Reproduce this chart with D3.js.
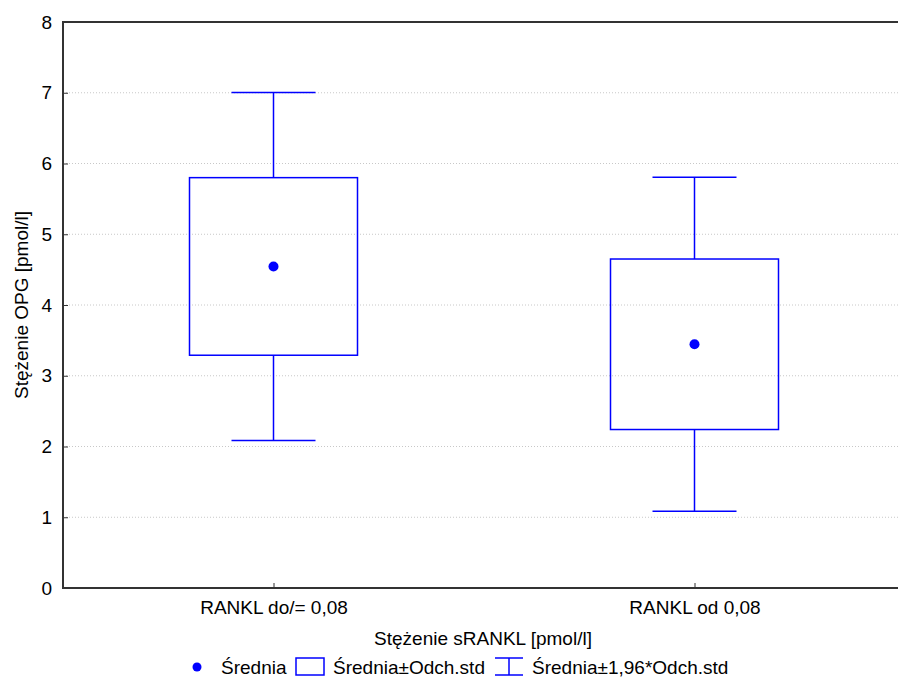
<!DOCTYPE html>
<html lang="pl">
<head>
<meta charset="utf-8">
<title>Stężenie OPG</title>
<script src="https://cdn.jsdelivr.net/npm/d3@7"></script>
<style>
  body { margin: 0; background: #fff; }
  svg text { font-family: "Liberation Sans", Arial, sans-serif; fill: #000; }
  .grid line { stroke: #c8c8c8; stroke-dasharray: 1,2; }
  .box { fill: none; stroke: #0000ff; stroke-width: 1.5; }
</style>
</head>
<body>
<svg width="898" height="677"></svg>
<script>
// values
var categories = ["RANKL do/= 0,08", "RANKL od 0,08"];
var means = [4.545, 3.445];
var stdDevs = [1.255, 1.205];
var yTicks = [0, 1, 2, 3, 4, 5, 6, 7, 8];
var legendItems = ["Średnia", "Średnia±Odch.std", "Średnia±1,96*Odch.std"];

var svg = d3.select("svg");
var plotL = 63, plotR = 905, plotT = 22, plotB = 588;
var fs = 19;

var x = d3.scalePoint().domain(categories).range([plotL, plotR]).padding(0.5);
var y = d3.scaleLinear().domain([0, 8]).range([plotB, plotT]);
var boxW = 168;

// grid
svg.append("g").attr("class", "grid")
  .selectAll("line").data(yTicks.filter(function(d){ return d > 0 && d < 8; }))
  .enter().append("line")
    .attr("x1", plotL).attr("x2", 898)
    .attr("y1", function(d){ return y(d); }).attr("y2", function(d){ return y(d); });

// y axis
var yAxis = svg.append("g")
  .attr("transform", "translate(" + plotL + ",0)")
  .call(d3.axisLeft(y).tickValues(yTicks).tickSize(-5).tickPadding(11));
yAxis.select(".domain").remove();
yAxis.selectAll(".tick line").attr("stroke", "#333");
yAxis.selectAll("text").style("font-size", fs + "px").style("font-family", "Liberation Sans, Arial, sans-serif").attr("fill", "#000");

// x axis
var xAxis = svg.append("g")
  .attr("transform", "translate(0," + plotB + ")")
  .call(d3.axisBottom(x).tickSize(-5).tickPadding(13));
xAxis.select(".domain").remove();
xAxis.selectAll(".tick line").attr("stroke", "#333");
xAxis.selectAll("text").style("font-size", fs + "px").style("font-family", "Liberation Sans, Arial, sans-serif").attr("fill", "#000");

// frame lines (left, bottom, top)
svg.append("line").attr("x1", plotL).attr("x2", plotL).attr("y1", plotT).attr("y2", plotB)
  .attr("stroke", "#333").attr("stroke-width", 2);
svg.append("line").attr("x1", plotL - 1).attr("x2", 898).attr("y1", plotB).attr("y2", plotB)
  .attr("stroke", "#333").attr("stroke-width", 2);
svg.append("line").attr("x1", plotL - 1).attr("x2", 898).attr("y1", plotT).attr("y2", plotT)
  .attr("stroke", "#333").attr("stroke-width", 2);

// boxes and whiskers
var g = svg.append("g");
categories.forEach(function(c, i){
  var cx = x(c), m = means[i], s = stdDevs[i];
  var wHi = m + 1.96 * s, wLo = m - 1.96 * s;
  g.append("line").attr("class", "box").attr("x1", cx).attr("x2", cx).attr("y1", y(wHi)).attr("y2", y(m + s));
  g.append("line").attr("class", "box").attr("x1", cx).attr("x2", cx).attr("y1", y(m - s)).attr("y2", y(wLo));
  g.append("line").attr("class", "box").attr("x1", cx - boxW / 4).attr("x2", cx + boxW / 4).attr("y1", y(wHi)).attr("y2", y(wHi));
  g.append("line").attr("class", "box").attr("x1", cx - boxW / 4).attr("x2", cx + boxW / 4).attr("y1", y(wLo)).attr("y2", y(wLo));
  g.append("rect").attr("class", "box")
    .attr("x", cx - boxW / 2).attr("y", y(m + s))
    .attr("width", boxW).attr("height", y(m - s) - y(m + s));
  g.append("circle").attr("cx", cx).attr("cy", y(m)).attr("r", 5).attr("fill", "#0000ff");
});

// axis titles
svg.append("text")
  .attr("transform", "translate(28," + ((plotT + plotB) / 2) + ") rotate(-90)")
  .attr("text-anchor", "middle").style("font-size", fs + "px")
  .text("Stężenie OPG [pmol/l]");
svg.append("text")
  .attr("x", 483).attr("y", 645).attr("text-anchor", "middle").style("font-size", fs + "px")
  .text("Stężenie sRANKL [pmol/l]");

// legend
var ly = 667;
var lg = svg.append("g");
lg.append("circle").attr("cx", 197).attr("cy", ly).attr("r", 4.5).attr("fill", "#0000ff");
lg.append("text").attr("x", 221).attr("y", ly + 7).style("font-size", fs + "px").text(legendItems[0]);
lg.append("rect").attr("class", "box").attr("x", 296).attr("y", ly - 9).attr("width", 28).attr("height", 17);
lg.append("text").attr("x", 333).attr("y", ly + 7).style("font-size", fs + "px").text(legendItems[1]);
lg.append("line").attr("class", "box").attr("x1", 495).attr("x2", 523).attr("y1", ly - 9).attr("y2", ly - 9);
lg.append("line").attr("class", "box").attr("x1", 495).attr("x2", 523).attr("y1", ly + 8).attr("y2", ly + 8);
lg.append("line").attr("class", "box").attr("x1", 509).attr("x2", 509).attr("y1", ly - 9).attr("y2", ly + 8);
lg.append("text").attr("x", 532).attr("y", ly + 7).style("font-size", fs + "px").text(legendItems[2]);
</script>
</body>
</html>
